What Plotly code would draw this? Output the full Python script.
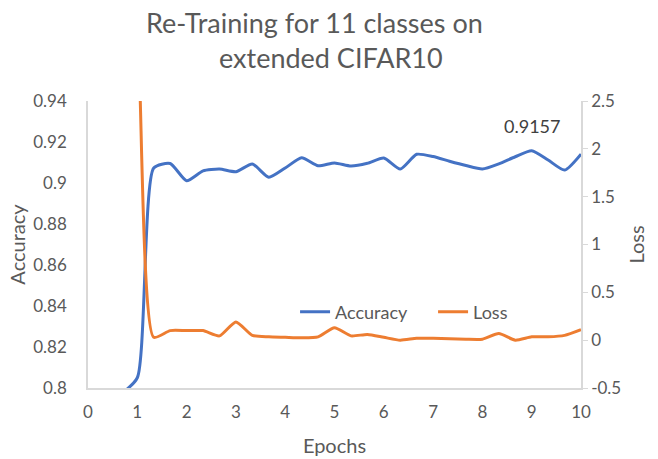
import plotly.graph_objects as go

# Training history, sampled every third of an epoch
epochs = [0.667, 1.0, 1.333, 1.667, 2.0, 2.333, 2.667, 3.0, 3.333, 3.667,
          4.0, 4.333, 4.667, 5.0, 5.333, 5.667, 6.0, 6.333, 6.667, 7.0,
          7.333, 7.667, 8.0, 8.333, 8.667, 9.0, 9.333, 9.667, 10.0]
accuracy = [0.797, 0.805, 0.9073, 0.9095, 0.9011, 0.9059, 0.9068, 0.9055, 0.9093, 0.9028,
            0.9073, 0.9123, 0.9084, 0.9098, 0.9083, 0.9096, 0.9122, 0.9068, 0.9140, 0.9129,
            0.9106, 0.9085, 0.9068, 0.9093, 0.9128, 0.9157, 0.9112, 0.9063, 0.9141]
loss = [4.6, 3.3, 0.03, 0.10, 0.10, 0.10, 0.045, 0.19, 0.05, 0.035,
        0.03, 0.025, 0.035, 0.13, 0.045, 0.06, 0.03, 0.0, 0.02, 0.02,
        0.015, 0.01, 0.01, 0.07, 0.0, 0.035, 0.035, 0.05, 0.11]

acc_ticks = [0.8, 0.82, 0.84, 0.86, 0.88, 0.9, 0.92, 0.94]
acc_labels = ["0.8", "0.82", "0.84", "0.86", "0.88", "0.9", "0.92", "0.94"]
loss_ticks = [-0.5, 0, 0.5, 1, 1.5, 2, 2.5]
loss_labels = ["-0.5", "0", "0.5", "1", "1.5", "2", "2.5"]
epoch_ticks = list(range(0, 11))

title_lines = ["Re-Training for 11 classes on", "extended CIFAR10"]

peak_epoch = 9.0
peak_acc = 0.9157

BLUE = "#4472C4"
ORANGE = "#ED7D31"
TEXT = "#595959"
AXIS = "#D9D9D9"
FONT = "Lato, 'Open Sans', sans-serif"

fig = go.Figure()
fig.add_trace(go.Scatter(
    x=epochs, y=accuracy, name="Accuracy", mode="lines",
    line=dict(color=BLUE, width=3, shape="spline", smoothing=0.6),
))
fig.add_trace(go.Scatter(
    x=epochs, y=loss, name="Loss", mode="lines", yaxis="y2",
    line=dict(color=ORANGE, width=3, shape="spline", smoothing=0.6),
))

# value label above the best accuracy
fig.add_annotation(
    x=peak_epoch, y=peak_acc, text=f"{peak_acc:.4f}", showarrow=False,
    yshift=25, font=dict(family=FONT, size=18, color="#404040"),
)

# two-line chart title
for text, xpos, ypos in zip(title_lines, [0.4604, 0.4929], [1.272, 1.152]):
    fig.add_annotation(
        xref="paper", yref="paper", x=xpos, y=ypos, xanchor="center", yanchor="middle",
        text=text, showarrow=False, font=dict(family=FONT, size=27, color=TEXT),
    )

fig.update_layout(
    width=658, height=459,
    margin=dict(l=88, r=77, t=101, b=71),
    paper_bgcolor="white", plot_bgcolor="white",
    font=dict(family=FONT, color=TEXT, size=17),
    showlegend=True,
    legend=dict(
        orientation="h", x=0.42, xanchor="left", y=0.265, yanchor="middle",
        entrywidth=93, entrywidthmode="pixels",
        bgcolor="rgba(0,0,0,0)", font=dict(family=FONT, size=18, color=TEXT),
    ),
    xaxis=dict(
        range=[0, 10], tickvals=epoch_ticks, showgrid=False, zeroline=False,
        showline=True, linecolor=AXIS, linewidth=1.5, automargin=False,
        ticks="outside", ticklen=8, tickcolor="rgba(0,0,0,0)",
        title=dict(text="Epochs", font=dict(family=FONT, size=20, color=TEXT), standoff=18),
        tickfont=dict(family=FONT, size=17, color=TEXT),
    ),
    yaxis=dict(
        range=[0.8, 0.94], tickvals=acc_ticks, ticktext=acc_labels,
        showgrid=False, zeroline=False, showline=True, linecolor=AXIS, linewidth=1.5,
        automargin=False,
        ticks="outside", ticklen=16, tickcolor="rgba(0,0,0,0)",
        title=dict(text="Accuracy", font=dict(family=FONT, size=20, color=TEXT), standoff=2),
        tickfont=dict(family=FONT, size=17, color=TEXT),
    ),
    yaxis2=dict(
        range=[-0.5, 2.5], tickvals=loss_ticks, ticktext=loss_labels,
        overlaying="y", side="right", showgrid=False, zeroline=False,
        showline=True, linecolor=AXIS, linewidth=1.5, automargin=False,
        ticks="outside", ticklen=5, tickcolor=AXIS, ticklabelstandoff=0,
        title=dict(text="Loss", font=dict(family=FONT, size=20, color=TEXT), standoff=10),
        tickfont=dict(family=FONT, size=17, color=TEXT),
    ),
)

fig.write_html("out.html")
